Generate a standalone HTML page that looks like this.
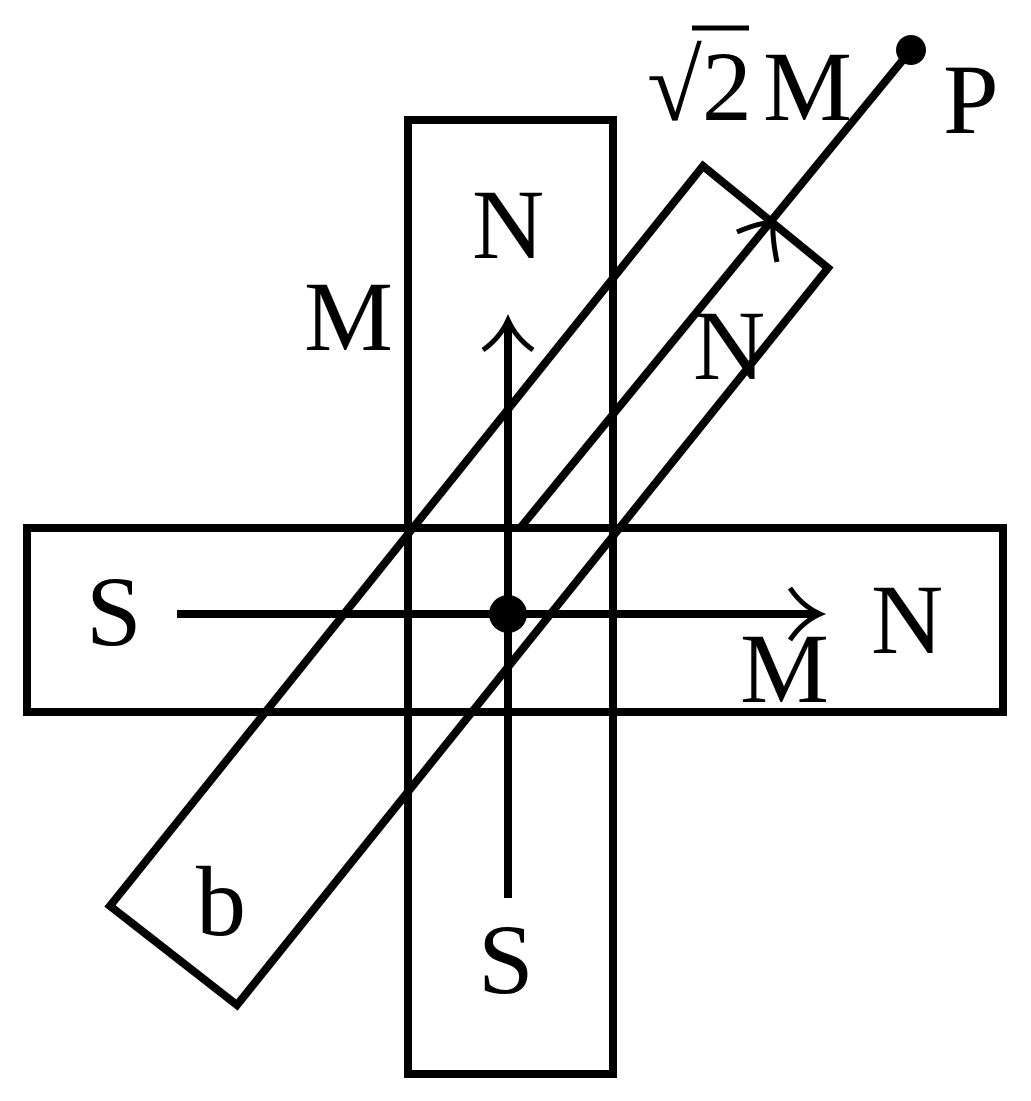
<!DOCTYPE html>
<html><head><meta charset="utf-8"><style>
html,body{margin:0;padding:0;background:#fff}
svg{display:block}
svg text{font-family:'Liberation Serif','Times New Roman',Times,serif;font-size:100px;fill:#000}
</style></head><body>
<svg width="1031" height="1101" viewBox="0 0 1031 1101" xmlns="http://www.w3.org/2000/svg" font-family="Liberation Serif, serif">
<g fill="none" stroke="#000" stroke-width="8" stroke-linejoin="miter">
<rect x="408" y="120" width="205" height="954"/>
<rect x="27" y="528" width="976" height="184"/>
<polygon points="703,166 828,268 237,1005 110,906"/>
<line x1="521" y1="527" x2="911" y2="50"/>
<line x1="508" y1="322" x2="508" y2="898"/>
<line x1="177" y1="614" x2="818" y2="614"/>
</g>
<g fill="none" stroke="#000" stroke-width="5">
<path d="M483,350 Q500,338 508,320 Q516,338 533,350"/>
<path d="M790,588 Q802,606 820,614 Q802,622 790,640"/>
<path d="M737,232 Q758,223 773,222 Q772,238 777,262"/>
</g>
<circle cx="508" cy="614" r="19" fill="#000"/>
<circle cx="911" cy="50" r="15" fill="#000"/>
<text x="472" y="258" font-family="Liberation Serif, serif">N</text>
<text x="304" y="350" font-family="Liberation Serif, serif">M</text>
<text x="693" y="379" font-family="Liberation Serif, serif">N</text>
<text x="86" y="645" font-family="Liberation Serif, serif">S</text>
<text x="871" y="653" font-family="Liberation Serif, serif">N</text>
<text x="740" y="702" font-family="Liberation Serif, serif">M</text>
<text x="196" y="935" font-family="Liberation Serif, serif">b</text>
<text x="478" y="993" font-family="Liberation Serif, serif">S</text>
<text x="647" y="120" font-family="Liberation Serif, serif">√2</text>
<line x1="692" y1="28" x2="749" y2="28" stroke="#000" stroke-width="5"/>
<text x="763" y="120" font-family="Liberation Serif, serif">M</text>
<text x="943" y="133" font-family="Liberation Serif, serif">P</text>
</svg>
</body></html>
